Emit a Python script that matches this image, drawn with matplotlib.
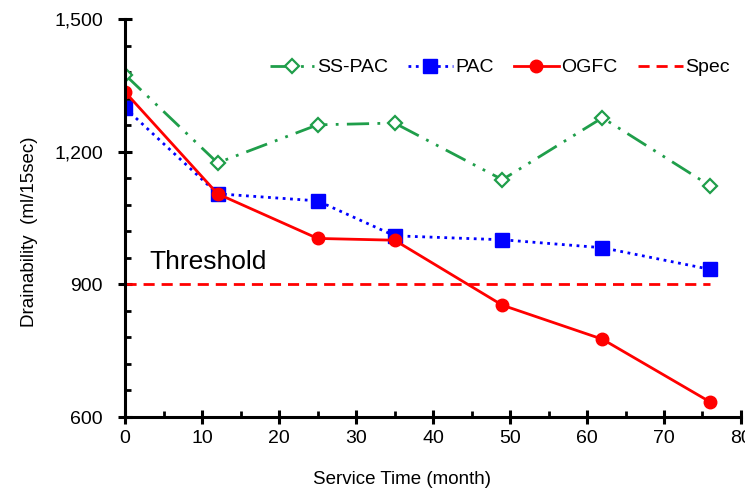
import matplotlib
matplotlib.use("Agg")
import matplotlib.pyplot as plt
from matplotlib.ticker import MultipleLocator, FuncFormatter

plt.rcParams['font.family'] = ['Liberation Sans', 'DejaVu Sans']

months = [0, 12, 25, 35, 49, 62, 76]
ss_pac = [1374, 1175, 1261, 1265, 1137, 1277, 1123]
pac = [1299, 1105, 1089, 1010, 1001, 983, 934]
ogfc = [1335, 1105, 1004, 1000, 853, 776, 634]
spec_x = [0, 76]
spec_y = [900, 900]

fig = plt.figure(figsize=(7.45, 4.92), dpi=100)
ax = fig.add_axes([0.168, 0.1524, 0.8266, 0.8086])

green = '#1f9e4a'
ax.plot(months, ss_pac, color=green, lw=2, dashes=(8, 3, 1, 3, 1, 3),
        marker='D', markersize=7, markerfacecolor='white', markeredgecolor=green,
        markeredgewidth=1.6, label='SS-PAC')
ax.plot(months, pac, color='#0000ff', lw=2, linestyle=':',
        marker='s', markersize=10, label='PAC')
ax.plot(months, ogfc, color='#ff0000', lw=2, linestyle='-',
        marker='o', markersize=9, label='OGFC')
ax.plot(spec_x, spec_y, color='#ff0000', lw=2, dashes=(4, 2.5), label='Spec')

ax.text(3.2, 934, 'Threshold', fontsize=19)

ax.set_xlim(0, 80)
ax.set_ylim(600, 1500)
ax.xaxis.set_major_locator(MultipleLocator(10))
ax.xaxis.set_minor_locator(MultipleLocator(5))
ax.yaxis.set_major_locator(MultipleLocator(300))
ax.yaxis.set_minor_locator(MultipleLocator(60))
ax.yaxis.set_major_formatter(FuncFormatter(lambda v, p: f'{int(v):,}'))

for s in ['top', 'right']:
    ax.spines[s].set_visible(False)
for s in ['left', 'bottom']:
    ax.spines[s].set_linewidth(2.2)
    ax.spines[s].set_clip_on(False)

ax.tick_params(which='major', direction='inout', length=10, width=2.2,
               labelsize=14)
ax.tick_params(axis='y', which='major', pad=11)
ax.tick_params(axis='x', which='major', pad=4)
ax.tick_params(which='minor', direction='in', length=4, width=2)

ax.set_xlabel('Service Time (month)', fontsize=13.5)
ax.set_ylabel('Drainability  (ml/15sec)', fontsize=13.5)
ax.xaxis.set_label_coords(0.45, -0.135)
ax.yaxis.set_label_coords(-0.141, 0.465)

ax.legend(loc='upper left', bbox_to_anchor=(0.222, 0.92), ncol=4, frameon=False,
          fontsize=14, handlelength=2.3, handletextpad=0.12, columnspacing=1.05,
          borderaxespad=0)

fig.savefig('out.png', dpi=100)
